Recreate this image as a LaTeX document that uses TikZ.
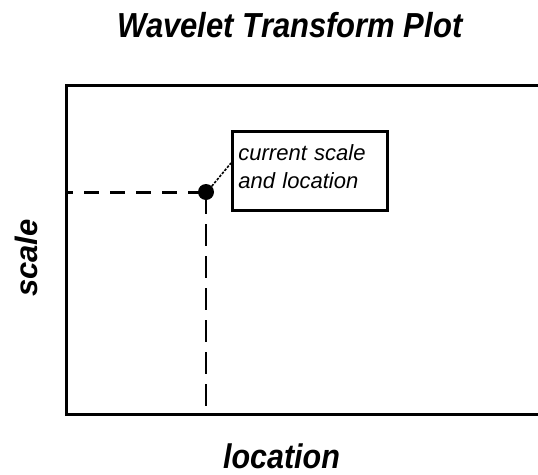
\documentclass[tikz,border=0pt]{standalone}
\usepackage{fontspec}
\setmainfont{Liberation Sans}
\newcommand{\tallify}[1]{\scalebox{1}[1.12]{#1}}
\begin{document}
\begin{tikzpicture}[x=1pt,y=-1pt,
  frame/.style={line width=3pt,line join=miter},
  bigtext/.style={font=\fontsize{31}{36}\selectfont\bfseries\itshape,inner sep=0pt},
  hdash/.style={line width=3pt,dash pattern=on 15pt off 11pt,dash phase=8pt},
  vdash/.style={line width=1.8pt,dash pattern=on 22pt off 10pt},
  leader/.style={line width=1.6pt,dash pattern=on 2.6pt off 1.4pt},
  labelbox/.style={draw,line width=2.8pt,anchor=north west,minimum width=155pt,minimum height=79pt,
    inner xsep=6pt,inner ysep=0pt,align=left,text width=143pt,
    font=\fontsize{22}{28}\selectfont\itshape},
  dotnode/.style={circle,fill=black,minimum size=16pt,inner sep=0pt}
]
\useasboundingbox (0,0) rectangle (538,474);
% plot frame (open at right)
\draw[frame] (540,85) -- (66,85) -- (66,414) -- (540,414);
\coordinate (hl) at (66,192);
\coordinate (vb) at (206,414);
% title and axis labels
\node[bigtext,anchor=base] (title) at (290,37) {\tallify{Wavelet Transform Plot}};
\node[bigtext,anchor=base,font=\fontsize{30.5}{36}\selectfont\bfseries\itshape] (xlab) at (281.5,468) {\tallify{location}};
\node[bigtext,anchor=base,rotate=90] (ylab) at (37,258) {scale};
% dashed guide lines
\draw[hdash] (hl) -- (206,192);
\draw[vdash] (206,192) -- (vb);
% point and label
\node[dotnode] (dot) at (206,192) {};
\node[labelbox] (label) at (231,130) {current scale\\and location\\[-19pt]\mbox{}};
\draw[leader] (dot.45) -- ([yshift=-33pt]label.north west);
\end{tikzpicture}
\end{document}
